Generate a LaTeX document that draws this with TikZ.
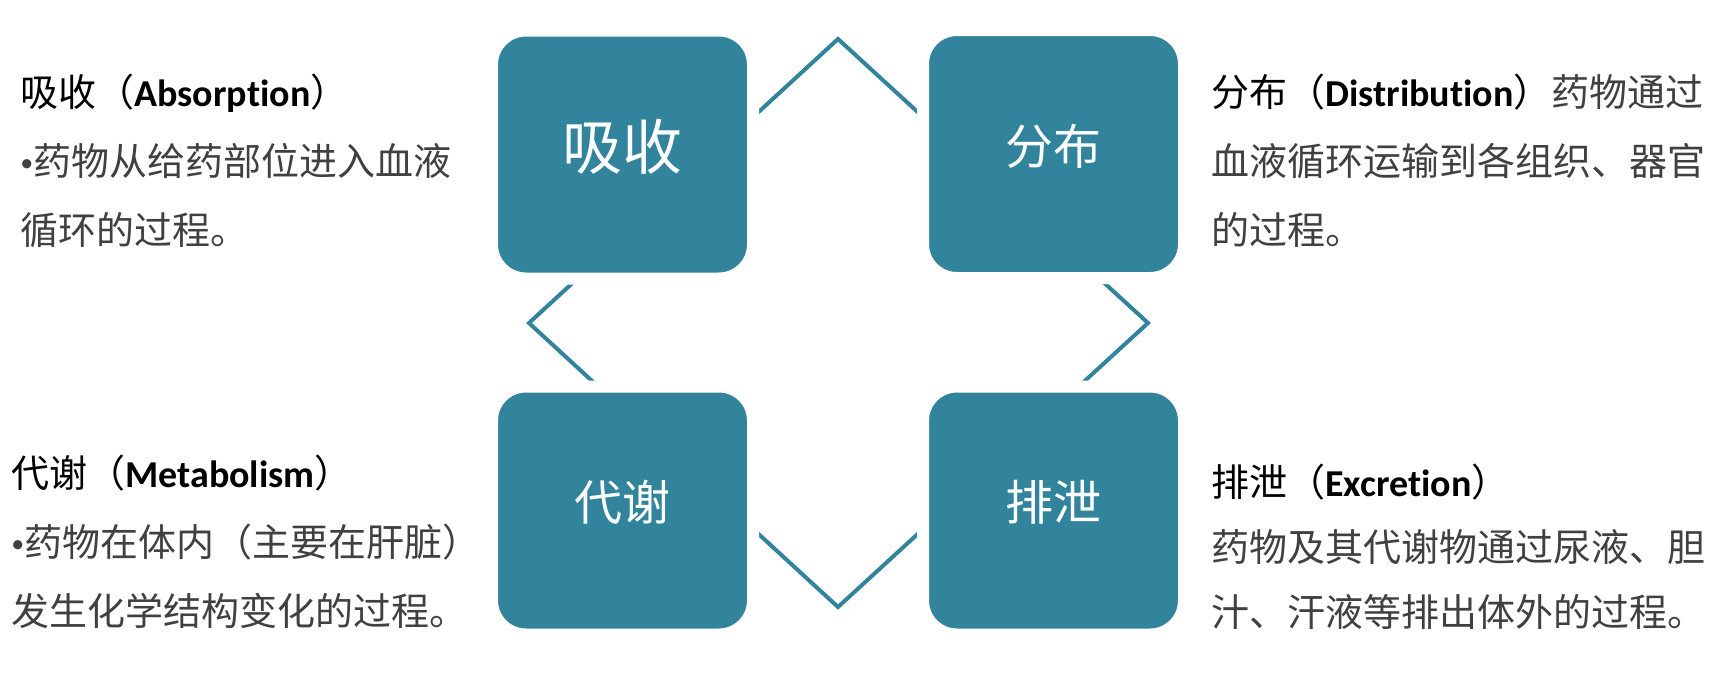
\documentclass[tikz,border=0pt]{standalone}
\usepackage{fontspec}
\setmainfont{Carlito}[Ligatures=NoCommon]
\newfontfamily\cjk{Noto Sans CJK SC}
\definecolor{seeblau}{RGB}{49,132,155}
\definecolor{textgrau}{RGB}{64,64,64}
\newcommand{\kopf}[2]{{\color{black}\cjk #1（}{\color{black}\bfseries #2}{\color{black}\cjk ）}}
\newcommand{\punkt}{{\fontsize{13pt}{13pt}\selectfont\raisebox{2pt}{•}}}

\begin{document}
\begin{tikzpicture}[x=0.5pt, y=-0.5pt,
    phase/.style={fill=seeblau, draw=white, line width=6pt, rounded corners=17pt,
        minimum width=130.5pt, minimum height=124pt, inner sep=0pt, text=white,
        text depth=10pt, font=\cjk\fontsize{24pt}{24pt}\selectfont},
    ring/.style={seeblau, line width=2pt, line join=miter},
    info/.style={anchor=north west, inner sep=0pt, align=left, text=textgrau,
        font=\fontsize{19pt}{34.5pt}\selectfont}]

    \useasboundingbox (0,0) rectangle (1720,676);

    % Kreislauf hinter den Kaesten
    \coordinate (N) at (838,39);
    \coordinate (E) at (1148,323);
    \coordinate (S) at (838,607);
    \coordinate (W) at (529,323);
    \draw[ring] (N) -- (E) -- (S) -- (W) -- cycle;

    \node[phase, font=\cjk\fontsize{30pt}{30pt}\selectfont] (absorb) at (622.5,154.5) {吸收};
    \node[phase] (distrib) at (1053.5,154) {分布};
    \node[phase] (metab) at (622.5,510.5) {代谢};
    \node[phase] (excret) at (1053.5,510.5) {排泄};

    % Erlaeuterungen
    \node[info] (absorbtxt) at (20,74) {\kopf{吸收}{Absorption}\\
        \punkt{\cjk 药物从给药部位进入血液}\\
        {\cjk 循环的过程。}};
    \node[info] (distribtxt) at (1211,74) {\kopf{分布}{Distribution}{\cjk 药物通过}\\
        {\cjk 血液循环运输到各组织、器官}\\
        {\cjk 的过程。}};
    \node[info] (metabtxt) at (11,455) {\kopf{代谢}{Metabolism}\\
        \punkt{\cjk 药物在体内（主要在肝脏）}\\
        {\cjk 发生化学结构变化的过程。}};
    \node[info, font=\fontsize{19pt}{32.5pt}\selectfont] (excrettxt) at (1211,464) {\kopf{排泄}{Excretion}\\
        {\cjk 药物及其代谢物通过尿液、胆}\\
        {\cjk 汁、汗液等排出体外的过程。}};

\end{tikzpicture}
\end{document}
